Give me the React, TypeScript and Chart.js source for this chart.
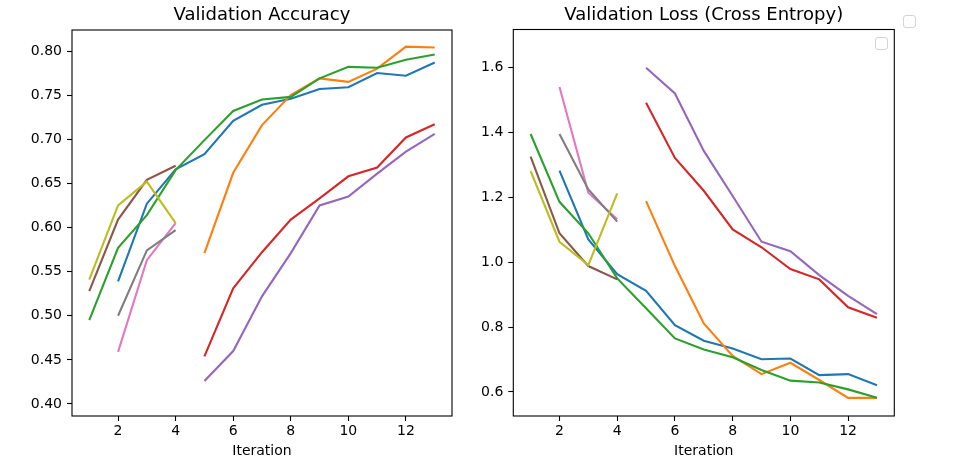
import React, { useEffect, useRef } from "react";
import { Chart, registerables } from "chart.js";

Chart.register(...registerables);

const iterations = [1, 2, 3, 4, 5, 6, 7, 8, 9, 10, 11, 12, 13];
const xTicks = [2, 4, 6, 8, 10, 12];
const accTicks = [0.4, 0.45, 0.5, 0.55, 0.6, 0.65, 0.7, 0.75, 0.8];
const lossTicks = [0.6, 0.8, 1.0, 1.2, 1.4, 1.6];

const colors = ["#1f77b4", "#ff7f0e", "#2ca02c", "#d62728", "#9467bd", "#8c564b", "#e377c2", "#7f7f7f", "#bcbd22"];

const N = null;
const accBlue = [N, 0.539, 0.627, 0.666, 0.683, 0.721, 0.739, 0.746, 0.757, 0.759, 0.775, 0.772, 0.787];
const accOrange = [N, N, N, N, 0.571, 0.662, 0.716, 0.75, 0.769, 0.765, 0.78, 0.805, 0.804];
const accGreen = [0.495, 0.577, 0.614, 0.665, 0.699, 0.732, 0.745, 0.748, 0.769, 0.782, 0.781, 0.79, 0.796];
const accRed = [N, N, N, N, 0.454, 0.531, 0.572, 0.609, 0.633, 0.658, 0.668, 0.702, 0.717];
const accPurple = [N, N, N, N, 0.426, 0.46, 0.522, 0.571, 0.625, 0.635, 0.661, 0.686, 0.706];
const accBrown = [0.528, 0.609, 0.654, 0.67, N, N, N, N, N, N, N, N, N];
const accPink = [N, 0.459, 0.563, 0.605, N, N, N, N, N, N, N, N, N];
const accGray = [N, 0.5, 0.574, 0.597, N, N, N, N, N, N, N, N, N];
const accOlive = [0.541, 0.625, 0.652, 0.605, N, N, N, N, N, N, N, N, N];

const lossBlue = [N, 1.282, 1.07, 0.963, 0.912, 0.806, 0.758, 0.734, 0.701, 0.703, 0.652, 0.655, 0.621];
const lossOrange = [N, N, N, N, 1.188, 0.988, 0.811, 0.711, 0.655, 0.69, 0.637, 0.582, 0.582];
const lossGreen = [1.395, 1.186, 1.089, 0.95, 0.858, 0.765, 0.731, 0.707, 0.668, 0.635, 0.629, 0.608, 0.582];
const lossRed = [N, N, N, N, 1.491, 1.321, 1.22, 1.101, 1.046, 0.979, 0.947, 0.861, 0.829];
const lossPurple = [N, N, N, N, 1.599, 1.52, 1.343, 1.204, 1.063, 1.034, 0.96, 0.896, 0.84];
const lossBrown = [1.325, 1.089, 0.988, 0.947, N, N, N, N, N, N, N, N, N];
const lossPink = [N, 1.54, 1.214, 1.132, N, N, N, N, N, N, N, N, N];
const lossGray = [N, 1.395, 1.224, 1.125, N, N, N, N, N, N, N, N, N];
const lossOlive = [1.281, 1.063, 0.991, 1.212, N, N, N, N, N, N, N, N, N];

const accSeries = [accBlue, accOrange, accGreen, accRed, accPurple, accBrown, accPink, accGray, accOlive];
const lossSeries = [lossBlue, lossOrange, lossGreen, lossRed, lossPurple, lossBrown, lossPink, lossGray, lossOlive];

const FONT = "'DejaVu Sans', sans-serif";

const framePlugin = {
  id: "frame",
  afterDraw(chart: any) {
    const { ctx, chartArea } = chart;
    ctx.save();
    ctx.strokeStyle = "#000";
    ctx.lineWidth = 1.1;
    ctx.strokeRect(chartArea.left, chartArea.top, chartArea.right - chartArea.left, chartArea.bottom - chartArea.top);
    ctx.restore();
  },
};

function makeConfig(
  title: string,
  series: (number | null)[][],
  yTicks: number[],
  yMin: number,
  yMax: number,
  decimals: number,
  yWidth: number,
  padRight: number,
  titlePadBottom: number
): any {
  return {
    type: "line",
    data: {
      datasets: series.map((s, i) => ({
        data: s.map((v, j) => ({ x: iterations[j], y: v })),
        borderColor: colors[i],
        backgroundColor: colors[i],
        borderWidth: 2.1,
        pointRadius: 0,
        tension: 0,
        fill: false,
        spanGaps: false,
        order: series.length - 1 - i,
      })),
    },
    options: {
      animation: false,
      responsive: false,
      maintainAspectRatio: false,
      layout: { padding: { left: 0, right: padRight, top: 0, bottom: 0 } },
      plugins: {
        legend: { display: false },
        tooltip: { enabled: false },
        title: {
          display: true,
          fullSize: false,
          text: title,
          color: "#000",
          font: { family: FONT, size: 18, weight: "normal" },
          padding: { top: 4.2, bottom: titlePadBottom },
        },
      },
      scales: {
        x: {
          type: "linear",
          min: 0.4,
          max: 13.6,
          afterBuildTicks: (scale: any) => {
            scale.ticks = xTicks.map((v) => ({ value: v }));
          },
          afterFit: (scale: any) => {
            scale.height = 54;
          },
          border: { display: false },
          grid: { display: true, drawOnChartArea: false, drawTicks: true, tickLength: 5, tickColor: "#000", tickWidth: 1.1 },
          ticks: { color: "#000", font: { family: FONT, size: 14 }, padding: 2, maxRotation: 0, autoSkip: false },
          title: {
            display: true,
            text: "Iteration",
            color: "#000",
            font: { family: FONT, size: 14 },
            padding: { top: 0, bottom: 10.6 },
          },
        },
        y: {
          type: "linear",
          min: yMin,
          max: yMax,
          afterBuildTicks: (scale: any) => {
            scale.ticks = yTicks.map((v) => ({ value: v }));
          },
          afterFit: (scale: any) => {
            scale.width = yWidth;
          },
          border: { display: false },
          grid: { display: true, drawOnChartArea: false, drawTicks: true, tickLength: 5, tickColor: "#000", tickWidth: 1.1 },
          ticks: {
            color: "#000",
            font: { family: FONT, size: 14 },
            padding: 5,
            autoSkip: false,
            callback: (v: any) => Number(v).toFixed(decimals),
          },
        },
      },
    },
    plugins: [framePlugin],
  };
}

function ChartCanvas({ config, left, width }: { config: any; left: number; width: number }) {
  const ref = useRef<HTMLCanvasElement | null>(null);
  useEffect(() => {
    if (!ref.current) return;
    const chart = new Chart(ref.current, config);
    return () => chart.destroy();
  }, []);
  return (
    <canvas
      ref={ref}
      width={width}
      height={470}
      style={{ position: "absolute", left, top: 0, width, height: 470 }}
    />
  );
}

const legendBox: React.CSSProperties = {
  position: "absolute",
  width: 13,
  height: 13,
  boxSizing: "border-box",
  border: "1px solid #d3d3d3",
  borderRadius: 3,
  background: "#fff",
};

export default function App() {
  const accConfig = makeConfig("Validation Accuracy", accSeries, accTicks, 0.3864, 0.8238, 2, 72, 18, 4.2);
  const lossConfig = makeConfig("Validation Loss (Cross Entropy)", lossSeries, lossTicks, 0.526, 1.717, 1, 43.3, 58.7, 3.7);
  return (
    <div style={{ position: "absolute", left: 0, top: 0, width: 953, height: 470, background: "#fff", overflow: "hidden" }}>
      <ChartCanvas config={accConfig} left={0} width={470} />
      <ChartCanvas config={lossConfig} left={470} width={483} />
      <div style={{ ...legendBox, left: 875, top: 37 }} />
      <div style={{ ...legendBox, left: 903, top: 15 }} />
    </div>
  );
}
